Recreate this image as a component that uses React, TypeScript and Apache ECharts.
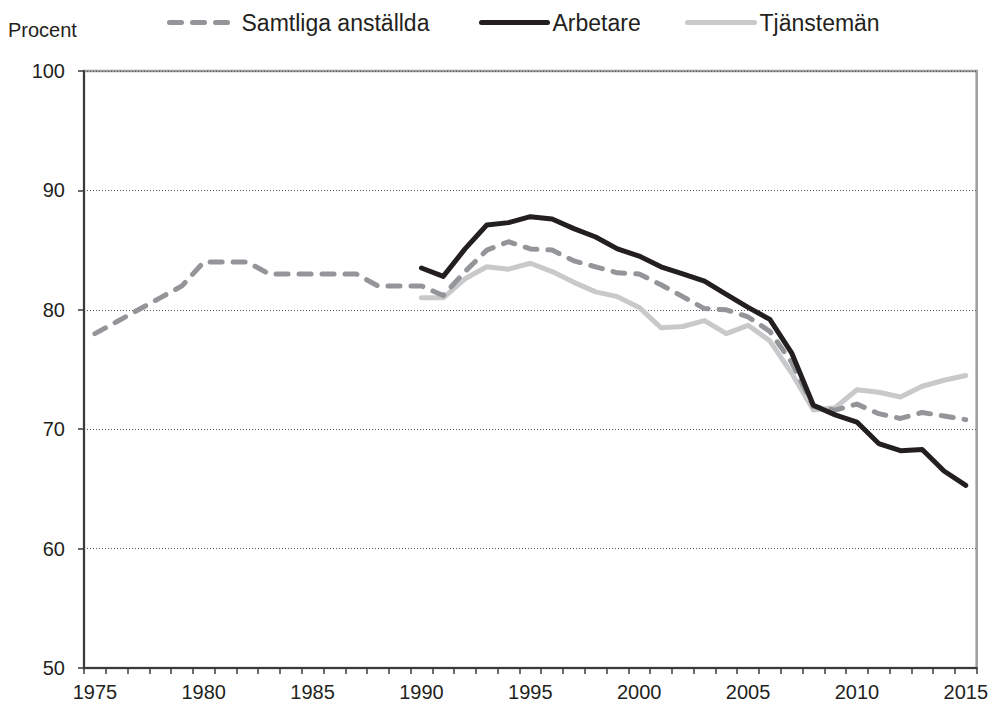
import React, { useEffect, useRef } from "react";
import * as echarts from "echarts";

const years: string[] = [
  "1975","1976","1977","1978","1979","1980","1981","1982","1983","1984",
  "1985","1986","1987","1988","1989","1990","1991","1992","1993","1994",
  "1995","1996","1997","1998","1999","2000","2001","2002","2003","2004",
  "2005","2006","2007","2008","2009","2010","2011","2012","2013","2014","2015",
];

const samtliga: (number | null)[] = [
  78, 79, 80, 81, 82, 84, 84, 84, 83, 83,
  83, 83, 83, 82, 82, 82, 81.2, 83.2, 85, 85.7,
  85.1, 85, 84.1, 83.6, 83.1, 83, 82.1, 81.1, 80.1, 80,
  79.4, 78.2, 75.6, 71.9, 71.6, 72.1, 71.3, 70.9, 71.4, 71.1, 70.8,
];

const arbetare: (number | null)[] = [
  null, null, null, null, null, null, null, null, null, null,
  null, null, null, null, null, 83.5, 82.8, 85.1, 87.1, 87.3,
  87.8, 87.6, 86.8, 86.1, 85.1, 84.5, 83.6, 83.0, 82.4, 81.3,
  80.2, 79.2, 76.4, 72.0, 71.2, 70.6, 68.8, 68.2, 68.3, 66.5, 65.3,
];

const tjanstemannen: (number | null)[] = [
  null, null, null, null, null, null, null, null, null, null,
  null, null, null, null, null, 81.0, 81.0, 82.6, 83.6, 83.4,
  83.9, 83.2, 82.3, 81.5, 81.1, 80.2, 78.5, 78.6, 79.1, 78.0,
  78.7, 77.4, 74.7, 71.6, 71.8, 73.3, 73.1, 72.7, 73.6, 74.1, 74.5,
];

const yTicks = { min: 50, max: 100, interval: 10 };

const FONT = "Liberation Sans, Arial, sans-serif";
const TEXT = "#231f20";
const LW = 5;

export default function App() {
  const ref = useRef<HTMLDivElement>(null);
  useEffect(() => {
    if (!ref.current) return;
    const chart = echarts.init(ref.current, null, { renderer: "svg" });
    const legendBase = {
      top: 6,
      itemHeight: 14,
      itemStyle: { opacity: 0 },
      textStyle: { fontSize: 23, fontFamily: FONT, color: TEXT },
      selectedMode: false,
    };
    chart.setOption({
      animation: false,
      backgroundColor: "#ffffff",
      textStyle: { fontFamily: FONT },
      grid: {
        left: 84,
        right: 13,
        top: 71,
        bottom: 36,
        show: true,
        borderColor: "#9d9d9d",
        borderWidth: 2.5,
      },
      legend: [
        {
          ...legendBase,
          left: 162,
          itemWidth: 58,
          data: ["Samtliga anställda"],
          lineStyle: { width: LW, type: [12, 11], cap: "round" },
          textStyle: { ...legendBase.textStyle, padding: [0, 0, 0, 9] },
        },
        {
          ...legendBase,
          left: 474,
          itemWidth: 66,
          data: ["Arbetare"],
          lineStyle: { width: LW, cap: "round" },
          textStyle: { ...legendBase.textStyle, padding: [0, 0, 0, 0] },
        },
        {
          ...legendBase,
          left: 680,
          itemWidth: 67,
          data: ["Tjänstemän"],
          lineStyle: { width: LW, cap: "round" },
          textStyle: { ...legendBase.textStyle, padding: [0, 0, 0, 0] },
        },
      ],
      graphic: [
        {
          type: "text",
          left: 8,
          top: 20,
          style: { text: "Procent", font: `20px ${FONT}`, fill: TEXT },
        },
      ],
      xAxis: {
        type: "category",
        data: years,
        boundaryGap: true,
        axisLine: { show: true, lineStyle: { color: "#3a3a3a", width: 2 } },
        axisTick: {
          show: true,
          interval: 0,
          length: 6,
          lineStyle: { color: "#3a3a3a", width: 1.5 },
        },
        axisLabel: {
          interval: 4,
          fontSize: 20,
          fontFamily: FONT,
          color: TEXT,
          margin: 14,
        },
        splitLine: { show: false },
      },
      yAxis: {
        type: "value",
        min: yTicks.min,
        max: yTicks.max,
        interval: yTicks.interval,
        axisLine: { show: true, lineStyle: { color: "#3a3a3a", width: 2 } },
        axisTick: { show: true, length: 6, lineStyle: { color: "#3a3a3a", width: 1.5 } },
        axisLabel: { fontSize: 20, fontFamily: FONT, color: TEXT, margin: 19 },
        splitLine: {
          show: true,
          lineStyle: { color: "#555555", width: 1, type: [1, 2] },
        },
      },
      series: [
        {
          name: "Tjänstemän",
          type: "line",
          data: tjanstemannen,
          symbol: "none",
          lineStyle: { color: "#c8c9cb", width: LW, cap: "round", join: "round" },
          itemStyle: { color: "#c8c9cb" },
          z: 2,
        },
        {
          name: "Samtliga anställda",
          type: "line",
          data: samtliga,
          symbol: "none",
          lineStyle: {
            color: "#939598",
            width: LW,
            type: [12, 11],
            cap: "round",
            join: "round",
          },
          itemStyle: { color: "#939598" },
          z: 3,
        },
        {
          name: "Arbetare",
          type: "line",
          data: arbetare,
          symbol: "none",
          lineStyle: { color: "#231f20", width: LW, cap: "round", join: "round" },
          itemStyle: { color: "#231f20" },
          z: 4,
        },
      ],
    });
    return () => chart.dispose();
  }, []);
  return (
    <div
      ref={ref}
      style={{ position: "absolute", left: 0, top: 0, width: 991, height: 704 }}
    />
  );
}
